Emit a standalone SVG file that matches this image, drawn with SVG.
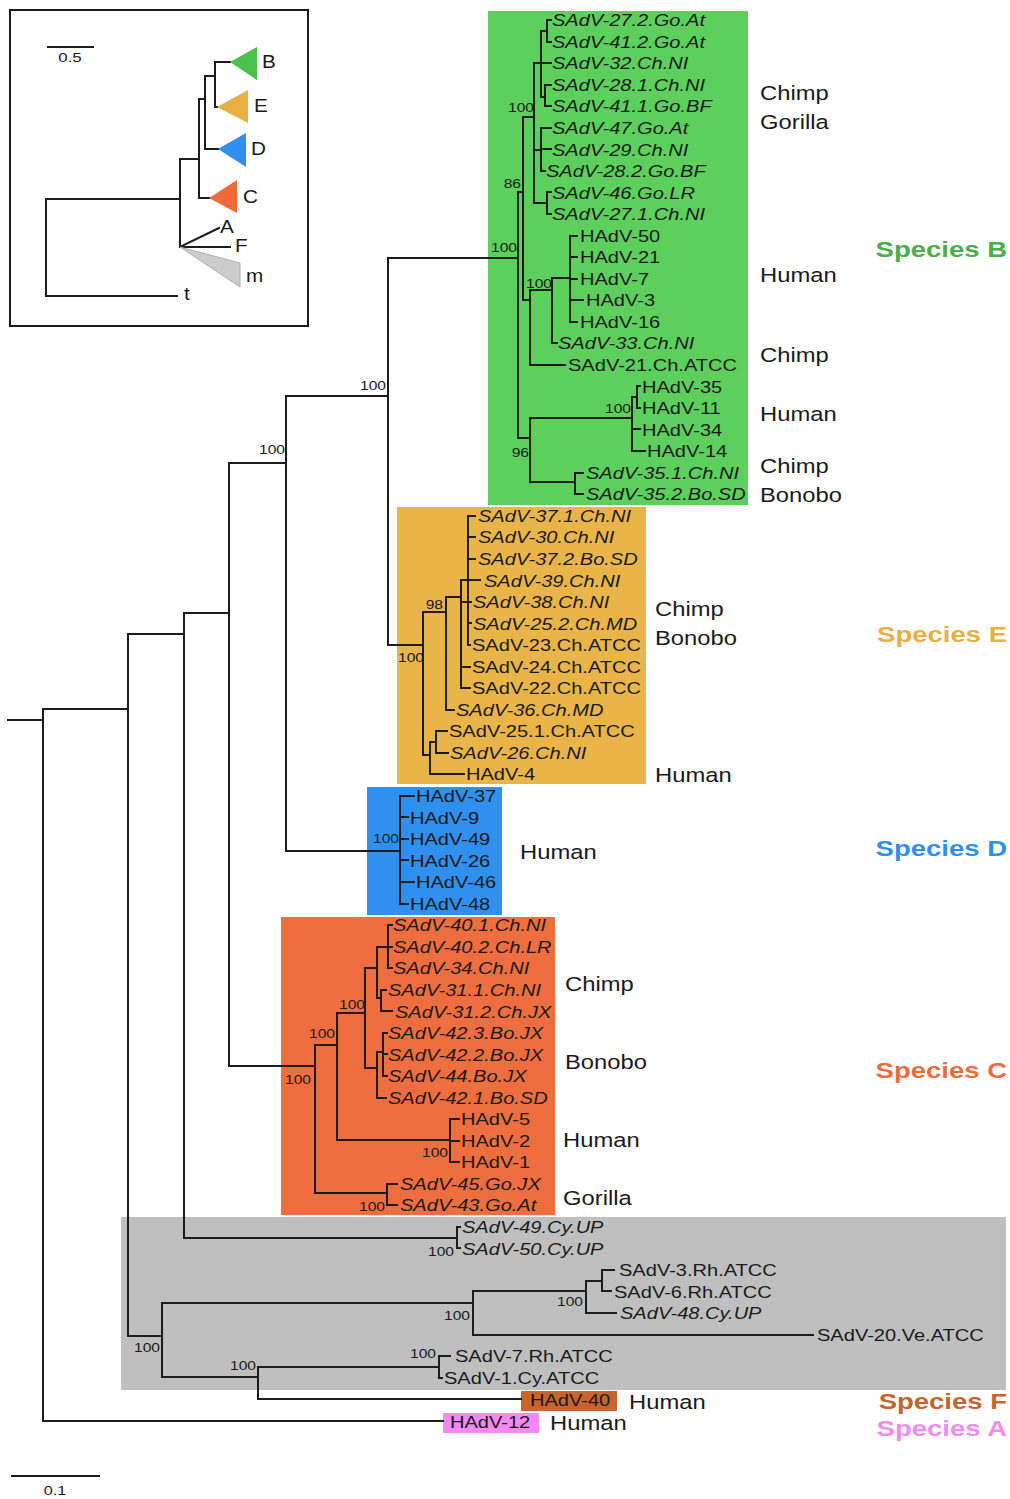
<svg xmlns="http://www.w3.org/2000/svg" width="1010" height="1499" viewBox="0 0 1010 1499">
<style>
text{font-family:"Liberation Sans",Arial,sans-serif;fill:#1a1a1a}
.lf{font-size:17px}
.it{font-style:italic}
.bs{font-size:13px;text-anchor:end}
.host{font-size:19.5px}
.sp{font-size:22px;font-weight:bold;text-anchor:end}
.br{fill:none;stroke:#1c1c1c;stroke-width:2;stroke-linecap:square}
.ins{font-size:18px}
</style>
<rect width="1010" height="1499" fill="#ffffff"/>

<!-- clade boxes -->
<g id="boxes">
<rect x="488" y="11" width="260" height="494" fill="#5ccf5c"/>
<rect x="397" y="507" width="249" height="277" fill="#e9b548"/>
<rect x="367" y="787" width="135" height="128" fill="#3090f0"/>
<rect x="281" y="917" width="274" height="298" fill="#ee6e3f"/>
<rect x="121" y="1217" width="885" height="173" fill="#bfbfbf"/>
<rect x="521" y="1391" width="96" height="20" fill="#c9642c"/>
<rect x="443" y="1413" width="96" height="20" fill="#f28af2"/>
</g>

<!-- inset -->
<g id="inset">
<rect x="10" y="10" width="298" height="316" fill="none" stroke="#1c1c1c" stroke-width="2"/>
<path class="br" d="M48,47H93"/>
<text transform="translate(70,62) scale(1.3,1)" font-size="13" text-anchor="middle">0.5</text>
<path class="br" d="M46,199V296M46,199H180M46,296H177M180,159V247M180,159H199M199,99V198M199,99H205M199,198H210M205,76V149M205,149H218M205,76H215M215,62V107M215,62H230M215,107H217M180,247L219,228M180,247H230"/>
<polygon points="180,247 240,263 240,287" fill="#cccccc" stroke="#b0b0b0" stroke-width="1"/>
<polygon points="230,62 257,47 257,80" fill="#4cc04c"/>
<polygon points="217,107 248,90 248,123" fill="#e8b040"/>
<polygon points="218,149 246,133 246,167" fill="#2f8ef0"/>
<polygon points="209,198 237,180 237,213" fill="#ee6a3a"/>
<text class="ins" transform="translate(262,68) scale(1.15,1)">B</text>
<text class="ins" transform="translate(254,112) scale(1.15,1)">E</text>
<text class="ins" transform="translate(251,155) scale(1.15,1)">D</text>
<text class="ins" transform="translate(243,203) scale(1.15,1)">C</text>
<text class="ins" transform="translate(220,233) scale(1.15,1)">A</text>
<text class="ins" transform="translate(235,252) scale(1.15,1)">F</text>
<text class="ins" transform="translate(246,282) scale(1.15,1)">m</text>
<text class="ins" transform="translate(184,300) scale(1.15,1)">t</text>
</g>

<!-- connectors -->
<g id="branches" class="br">
<path d="M8,720H43M43,709V1421M43,709H128M128,634V1336M128,634H184M184,613V1238M184,613H229M229,463V1066M229,463H286M286,396V851M286,396H388M388,258V645M388,258H518M388,645H423M286,851H400M229,1066H315M184,1238H457M128,1336H162M43,1421H443"/>
<!-- species B -->
<path d="M518,192V438M518,192H523M523,117V300M523,117H534M534,63V203M534,63H541M541,31V97M541,31H547M547,20V42M547,20H551M547,42H551M541,63H551M541,97H545M545,85V106M545,85H551M545,106H551M534,150H541M541,128V171M541,128H551M541,149H551M541,171H545M534,203H547M547,192V214M547,192H551M547,214H551M523,300H530M530,290V365M530,290H552M552,278V343M552,343H557M552,278H570M570,236V322M570,236H577M570,257H577M570,279H577M570,300H583M570,322H577M530,365H565M518,438H530M530,418V482M530,418H632M632,397V451M632,397H637M637,386V408M637,386H640M637,408H640M632,429H640M632,451H645M530,482H575M575,473V494M575,473H583M575,494H583"/>
<!-- species E -->
<path d="M423,612V755M423,612H446M446,597V710M446,597H461M461,580V688M461,580H480M461,602H468M468,516V645M468,516H475M468,537H475M468,559H475M468,602H471M468,623H471M468,645H470M461,667H470M461,688H470M446,710H454M423,755H430M430,742V774M430,742H436M436,731V753M436,731H447M436,753H448M430,774H464"/>
<!-- species D -->
<path d="M400,796V904M400,796H414M400,817H408M400,839H408M400,860H408M400,882H414M400,904H408"/>
<!-- species C -->
<path d="M315,1045V1193M315,1045H337M337,1013V1140M337,1013H365M365,968V1068M365,968H377M377,947V998M377,947H388M388,925V968M388,925H392M388,947H392M388,968H392M377,998H381M381,990V1011M381,990H386M381,1011H392M365,1068H377M377,1052V1098M377,1052H383M383,1033V1076M383,1033H387M383,1054H387M383,1076H387M377,1098H386M337,1140H450M450,1119V1162M450,1119H459M450,1141H459M450,1162H459M315,1193H387M387,1184V1205M387,1184H397M387,1205H397"/>
<!-- others -->
<path d="M457,1227V1248M457,1227H460M457,1248H460M162,1303V1377M162,1303H473M473,1291V1335M473,1291H586M586,1281V1313M586,1281H602M602,1270V1291M602,1270H614M602,1291H611M586,1313H616M473,1335H813M162,1377H258M258,1367V1399M258,1367H439M439,1356V1378M439,1356H450M439,1378H442M258,1399H521"/>
</g>

<!-- bootstrap values -->
<g id="bootstrap">
<text class="bs" transform="translate(386,390) scale(1.2,1)">100</text>
<text class="bs" transform="translate(285,454) scale(1.2,1)">100</text>
<text class="bs" transform="translate(517,252) scale(1.2,1)">100</text>
<text class="bs" transform="translate(521,188) scale(1.2,1)">86</text>
<text class="bs" transform="translate(534,112) scale(1.2,1)">100</text>
<text class="bs" transform="translate(552,288) scale(1.2,1)">100</text>
<text class="bs" transform="translate(529,457) scale(1.2,1)">96</text>
<text class="bs" transform="translate(631,413) scale(1.2,1)">100</text>
<text class="bs" transform="translate(443,609) scale(1.2,1)">98</text>
<text class="bs" transform="translate(424,662) scale(1.2,1)">100</text>
<text class="bs" transform="translate(399,843) scale(1.2,1)">100</text>
<text class="bs" transform="translate(365,1009) scale(1.2,1)">100</text>
<text class="bs" transform="translate(335,1038) scale(1.2,1)">100</text>
<text class="bs" transform="translate(311,1084) scale(1.2,1)">100</text>
<text class="bs" transform="translate(448,1157) scale(1.2,1)">100</text>
<text class="bs" transform="translate(385,1211) scale(1.2,1)">100</text>
<text class="bs" transform="translate(454,1256) scale(1.2,1)">100</text>
<text class="bs" transform="translate(583,1306) scale(1.2,1)">100</text>
<text class="bs" transform="translate(470,1320) scale(1.2,1)">100</text>
<text class="bs" transform="translate(160,1352) scale(1.2,1)">100</text>
<text class="bs" transform="translate(256,1370) scale(1.2,1)">100</text>
<text class="bs" transform="translate(436,1358) scale(1.2,1)">100</text>
</g>

<!-- leaves -->
<g id="leaves-B">
<g id="n1"><text class="lf it" transform="translate(552,26) scale(1.18,1)">SAdV-27.2.Go.At</text></g>
<g id="n2"><text class="lf it" transform="translate(552,47.5) scale(1.18,1)">SAdV-41.2.Go.At</text></g>
<g id="n3"><text class="lf it" transform="translate(552,69) scale(1.18,1)">SAdV-32.Ch.NI</text></g>
<g id="n4"><text class="lf it" transform="translate(552,90.5) scale(1.18,1)">SAdV-28.1.Ch.NI</text></g>
<g id="n5"><text class="lf it" transform="translate(552,112) scale(1.18,1)">SAdV-41.1.Go.BF</text></g>
<g id="n6"><text class="lf it" transform="translate(552,134) scale(1.18,1)">SAdV-47.Go.At</text></g>
<g id="n7"><text class="lf it" transform="translate(552,155.5) scale(1.18,1)">SAdV-29.Ch.NI</text></g>
<g id="n8"><text class="lf it" transform="translate(546,177) scale(1.18,1)">SAdV-28.2.Go.BF</text></g>
<g id="n9"><text class="lf it" transform="translate(552,198.5) scale(1.18,1)">SAdV-46.Go.LR</text></g>
<g id="n10"><text class="lf it" transform="translate(552,220) scale(1.18,1)">SAdV-27.1.Ch.NI</text></g>
<g id="n11"><text class="lf" transform="translate(580,241.5) scale(1.18,1)">HAdV-50</text></g>
<g id="n12"><text class="lf" transform="translate(580,263) scale(1.18,1)">HAdV-21</text></g>
<g id="n13"><text class="lf" transform="translate(580,284.5) scale(1.18,1)">HAdV-7</text></g>
<g id="n14"><text class="lf" transform="translate(586,306) scale(1.18,1)">HAdV-3</text></g>
<g id="n15"><text class="lf" transform="translate(580,327.5) scale(1.18,1)">HAdV-16</text></g>
<g id="n16"><text class="lf it" transform="translate(558,349) scale(1.18,1)">SAdV-33.Ch.NI</text></g>
<g id="n17"><text class="lf" transform="translate(568,371) scale(1.18,1)">SAdV-21.Ch.ATCC</text></g>
<g id="n18"><text class="lf" transform="translate(642,392.5) scale(1.18,1)">HAdV-35</text></g>
<g id="n19"><text class="lf" transform="translate(642,414) scale(1.18,1)">HAdV-11</text></g>
<g id="n20"><text class="lf" transform="translate(642,435.5) scale(1.18,1)">HAdV-34</text></g>
<g id="n21"><text class="lf" transform="translate(647,457) scale(1.18,1)">HAdV-14</text></g>
<g id="n22"><text class="lf it" transform="translate(586,478.5) scale(1.18,1)">SAdV-35.1.Ch.NI</text></g>
<g id="n23"><text class="lf it" transform="translate(586,500) scale(1.18,1)">SAdV-35.2.Bo.SD</text></g>
</g>
<g id="leaves-E">
<g id="n24"><text class="lf it" transform="translate(478,521.5) scale(1.18,1)">SAdV-37.1.Ch.NI</text></g>
<g id="n25"><text class="lf it" transform="translate(478,543) scale(1.18,1)">SAdV-30.Ch.NI</text></g>
<g id="n26"><text class="lf it" transform="translate(478,565) scale(1.18,1)">SAdV-37.2.Bo.SD</text></g>
<g id="n27"><text class="lf it" transform="translate(484,586.5) scale(1.18,1)">SAdV-39.Ch.NI</text></g>
<g id="n28"><text class="lf it" transform="translate(473,608) scale(1.18,1)">SAdV-38.Ch.NI</text></g>
<g id="n29"><text class="lf it" transform="translate(473,629.5) scale(1.18,1)">SAdV-25.2.Ch.MD</text></g>
<g id="n30"><text class="lf" transform="translate(472,651) scale(1.18,1)">SAdV-23.Ch.ATCC</text></g>
<g id="n31"><text class="lf" transform="translate(472,672.5) scale(1.18,1)">SAdV-24.Ch.ATCC</text></g>
<g id="n32"><text class="lf" transform="translate(472,694) scale(1.18,1)">SAdV-22.Ch.ATCC</text></g>
<g id="n33"><text class="lf it" transform="translate(456,715.5) scale(1.18,1)">SAdV-36.Ch.MD</text></g>
<g id="n34"><text class="lf" transform="translate(449,737) scale(1.18,1)">SAdV-25.1.Ch.ATCC</text></g>
<g id="n35"><text class="lf it" transform="translate(450,758.5) scale(1.18,1)">SAdV-26.Ch.NI</text></g>
<g id="n36"><text class="lf" transform="translate(466,780) scale(1.18,1)">HAdV-4</text></g>
</g>
<g id="leaves-D">
<g id="n37"><text class="lf" transform="translate(416,802) scale(1.18,1)">HAdV-37</text></g>
<g id="n38"><text class="lf" transform="translate(410,823.5) scale(1.18,1)">HAdV-9</text></g>
<g id="n39"><text class="lf" transform="translate(410,845) scale(1.18,1)">HAdV-49</text></g>
<g id="n40"><text class="lf" transform="translate(410,866.5) scale(1.18,1)">HAdV-26</text></g>
<g id="n41"><text class="lf" transform="translate(416,888) scale(1.18,1)">HAdV-46</text></g>
<g id="n42"><text class="lf" transform="translate(410,909.5) scale(1.18,1)">HAdV-48</text></g>
</g>
<g id="leaves-C">
<g id="n43"><text class="lf it" transform="translate(393,931) scale(1.18,1)">SAdV-40.1.Ch.NI</text></g>
<g id="n44"><text class="lf it" transform="translate(393,952.5) scale(1.18,1)">SAdV-40.2.Ch.LR</text></g>
<g id="n45"><text class="lf it" transform="translate(393,974) scale(1.18,1)">SAdV-34.Ch.NI</text></g>
<g id="n46"><text class="lf it" transform="translate(388,996) scale(1.18,1)">SAdV-31.1.Ch.NI</text></g>
<g id="n47"><text class="lf it" transform="translate(395,1017.5) scale(1.18,1)">SAdV-31.2.Ch.JX</text></g>
<g id="n48"><text class="lf it" transform="translate(388,1039) scale(1.18,1)">SAdV-42.3.Bo.JX</text></g>
<g id="n49"><text class="lf it" transform="translate(388,1060.5) scale(1.18,1)">SAdV-42.2.Bo.JX</text></g>
<g id="n50"><text class="lf it" transform="translate(388,1082) scale(1.18,1)">SAdV-44.Bo.JX</text></g>
<g id="n51"><text class="lf it" transform="translate(388,1103.5) scale(1.18,1)">SAdV-42.1.Bo.SD</text></g>
<g id="n52"><text class="lf" transform="translate(461,1125) scale(1.18,1)">HAdV-5</text></g>
<g id="n53"><text class="lf" transform="translate(461,1146.5) scale(1.18,1)">HAdV-2</text></g>
<g id="n54"><text class="lf" transform="translate(461,1168) scale(1.18,1)">HAdV-1</text></g>
<g id="n55"><text class="lf it" transform="translate(400,1189.5) scale(1.18,1)">SAdV-45.Go.JX</text></g>
<g id="n56"><text class="lf it" transform="translate(400,1211) scale(1.18,1)">SAdV-43.Go.At</text></g>
</g>
<g id="leaves-other">
<g id="n57"><text class="lf it" transform="translate(462,1233) scale(1.18,1)">SAdV-49.Cy.UP</text></g>
<g id="n58"><text class="lf it" transform="translate(462,1254.5) scale(1.18,1)">SAdV-50.Cy.UP</text></g>
<g id="n59"><text class="lf" transform="translate(619,1276) scale(1.18,1)">SAdV-3.Rh.ATCC</text></g>
<g id="n60"><text class="lf" transform="translate(614,1297.5) scale(1.18,1)">SAdV-6.Rh.ATCC</text></g>
<g id="n61"><text class="lf it" transform="translate(620,1319) scale(1.18,1)">SAdV-48.Cy.UP</text></g>
<g id="n62"><text class="lf" transform="translate(817,1340.5) scale(1.18,1)">SAdV-20.Ve.ATCC</text></g>
<g id="n63"><text class="lf" transform="translate(455,1362) scale(1.18,1)">SAdV-7.Rh.ATCC</text></g>
<g id="n64"><text class="lf" transform="translate(444,1383.5) scale(1.18,1)">SAdV-1.Cy.ATCC</text></g>
<g id="n65"><text class="lf" transform="translate(530,1406) scale(1.18,1)">HAdV-40</text></g>
<g id="n66"><text class="lf" transform="translate(450,1428) scale(1.18,1)">HAdV-12</text></g>
</g>

<!-- host labels -->
<g id="hosts">
<text class="host" transform="translate(760,100) scale(1.22,1)">Chimp</text>
<text class="host" transform="translate(760,129) scale(1.22,1)">Gorilla</text>
<text class="host" transform="translate(760,282) scale(1.22,1)">Human</text>
<text class="host" transform="translate(760,362) scale(1.22,1)">Chimp</text>
<text class="host" transform="translate(760,421) scale(1.22,1)">Human</text>
<text class="host" transform="translate(760,473) scale(1.22,1)">Chimp</text>
<text class="host" transform="translate(760,502) scale(1.22,1)">Bonobo</text>
<text class="host" transform="translate(655,616) scale(1.22,1)">Chimp</text>
<text class="host" transform="translate(655,645) scale(1.22,1)">Bonobo</text>
<text class="host" transform="translate(655,782) scale(1.22,1)">Human</text>
<text class="host" transform="translate(520,859) scale(1.22,1)">Human</text>
<text class="host" transform="translate(565,991) scale(1.22,1)">Chimp</text>
<text class="host" transform="translate(565,1069) scale(1.22,1)">Bonobo</text>
<text class="host" transform="translate(563,1147) scale(1.22,1)">Human</text>
<text class="host" transform="translate(563,1205) scale(1.22,1)">Gorilla</text>
<text class="host" transform="translate(629,1409) scale(1.22,1)">Human</text>
<text class="host" transform="translate(550,1430) scale(1.22,1)">Human</text>
</g>

<!-- species labels -->
<g id="species">
<text class="sp" transform="translate(1007,257) scale(1.25,1)" style="fill:#4aae4a">Species B</text>
<text class="sp" transform="translate(1007,642) scale(1.25,1)" style="fill:#e8b040">Species E</text>
<text class="sp" transform="translate(1007,856) scale(1.25,1)" style="fill:#2f8fec">Species D</text>
<text class="sp" transform="translate(1007,1078) scale(1.25,1)" style="fill:#ec6d3c">Species C</text>
<text class="sp" transform="translate(1007,1409) scale(1.25,1)" style="fill:#c7632d">Species F</text>
<text class="sp" transform="translate(1007,1436) scale(1.25,1)" style="fill:#f08cf0">Species A</text>
</g>

<!-- scale bar -->
<g id="scalebar">
<path class="br" d="M12,1476H99"/>
<text transform="translate(55,1495) scale(1.25,1)" font-size="13" text-anchor="middle">0.1</text>
</g>
</svg>
